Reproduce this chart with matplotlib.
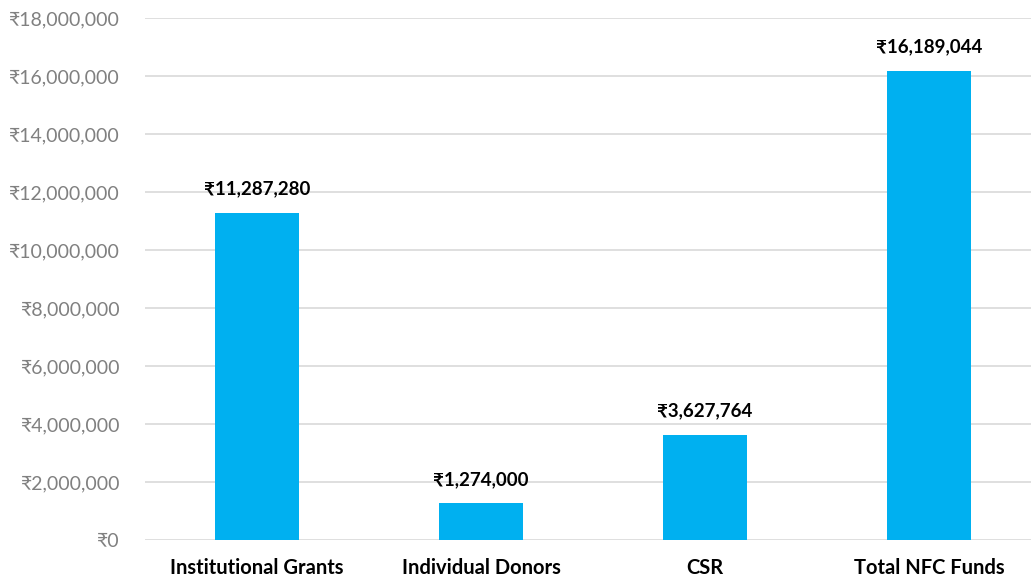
import matplotlib
matplotlib.use("Agg")
import matplotlib.pyplot as plt
from matplotlib.ticker import FuncFormatter

categories = ["Institutional Grants", "Individual Donors", "CSR", "Total NFC Funds"]
values = [11287280, 1274000, 3627764, 16189044]
y_ticks = [0, 2000000, 4000000, 6000000, 8000000, 10000000, 12000000, 14000000, 16000000, 18000000]

fam = ["Lato", "Noto Sans", "DejaVu Sans"]
plt.rcParams["font.family"] = fam

fig = plt.figure(figsize=(10.31, 5.79), dpi=100)
ax = fig.add_axes([145 / 1031, 39 / 579, (1031 - 145) / 1031, (540 - 18) / 579])

x = list(range(len(categories)))
ax.bar(x, values, width=0.375, color="#00B0F0", zorder=3)

ax.set_xlim(-0.5, -0.5 + (1031 - 145) / 224)
ax.set_ylim(0, 18000000)
ax.set_yticks(y_ticks)
ax.yaxis.set_major_formatter(FuncFormatter(lambda v, p: "₹{:,.0f}".format(v)))
ax.grid(axis="y", color="#D9D9D9", linewidth=1.2, zorder=0)
ax.set_xticks(x)
ax.set_xticklabels(categories, fontsize=14.5, fontweight="bold", color="#000000")
ax.tick_params(axis="x", length=0, pad=13)
ax.tick_params(axis="y", length=0, pad=18, labelsize=14, labelcolor="#808080")
for s in ax.spines.values():
    s.set_visible(False)

for xi, v in zip(x, values):
    ax.annotate("₹{:,}".format(v), (xi, v), xytext=(0, 11), textcoords="offset points",
                ha="center", va="bottom", fontsize=13.5, fontweight="bold", color="#000000")

fig.savefig("out.png", dpi=100)
